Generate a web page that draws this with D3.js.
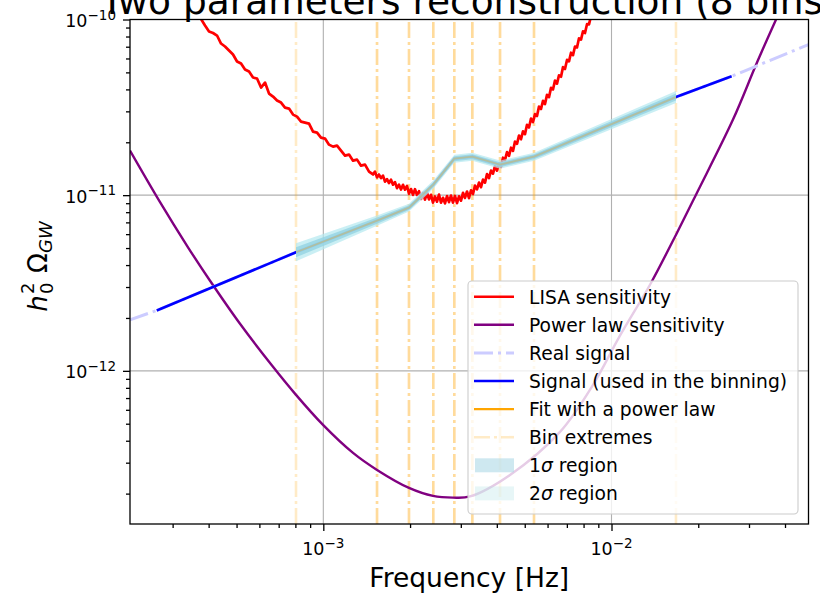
<!DOCTYPE html>
<html>
<head>
<meta charset="utf-8">
<script src="https://cdn.jsdelivr.net/npm/d3@7"></script>
<style>
  body { margin: 0; background: #fff; }
  svg { display: block; }
  text { font-family: "DejaVu Sans", sans-serif; fill: #000; }
</style>
</head>
<body>
<svg id="chart" width="820" height="593"></svg>
<script>
// ---------------- data ----------------
// Edges of the 8 frequency bins [Hz]
const binEdges = [8.04e-4, 1.536e-3, 1.983e-3, 2.408e-3, 2.848e-3, 3.289e-3, 4.104e-3, 5.384e-3, 1.674e-2];
// Power-law fit evaluated at the bin edges, with 1 and 2 sigma envelopes
const fitValues   = [4.73e-12, 7.16e-12, 8.49e-12, 1.148e-11, 1.614e-11, 1.657e-11, 1.492e-11, 1.657e-11, 3.618e-11];
const sigma1Upper = [5.05e-12, 7.45e-12, 8.77e-12, 1.186e-11, 1.668e-11, 1.712e-11, 1.542e-11, 1.712e-11, 3.788e-11];
const sigma1Lower = [4.43e-12, 6.88e-12, 8.22e-12, 1.111e-11, 1.562e-11, 1.603e-11, 1.444e-11, 1.603e-11, 3.456e-11];
const sigma2Upper = [5.32e-12, 7.65e-12, 8.95e-12, 1.210e-11, 1.701e-11, 1.746e-11, 1.573e-11, 1.746e-11, 3.915e-11];
const sigma2Lower = [4.20e-12, 6.70e-12, 8.06e-12, 1.089e-11, 1.531e-11, 1.572e-11, 1.416e-11, 1.572e-11, 3.344e-11];

// Injected signal h0^2 Omega_GW(f)
const signalFreq   = [2.134e-4, 2.642e-4, 8.04e-4, 1.536e-3, 1.983e-3, 2.408e-3, 2.848e-3, 3.289e-3, 4.104e-3, 5.384e-3, 1.674e-2, 2.612e-2, 4.826e-2];
const signalValues = [1.953e-12, 2.207e-12, 4.73e-12, 7.16e-12, 8.49e-12, 1.148e-11, 1.614e-11, 1.657e-11, 1.492e-11, 1.657e-11, 3.618e-11, 4.753e-11, 7.20e-11];
// Frequency window used for the binning
const binningRange = [2.642e-4, 2.612e-2];

// Power-law integrated sensitivity
const plsFreq = [2.134e-4, 2.713e-4, 3.392e-4, 4.045e-4, 5.140e-4, 6.637e-4, 8.04e-4, 9.977e-4, 1.268e-3, 1.536e-3,
                 1.983e-3, 2.402e-3, 2.818e-3, 3.228e-3, 4.444e-3, 6.626e-3, 8.626e-3, 1.070e-2, 1.360e-2, 1.688e-2,
                 1.980e-2, 2.640e-2, 3.198e-2, 3.752e-2, 4.064e-2];
const plsValues = [1.793e-11, 9.122e-12, 5.048e-12, 3.257e-12, 1.853e-12, 1.072e-12, 7.298e-13, 4.924e-13, 3.410e-13, 2.728e-13,
                   2.154e-13, 1.940e-13, 1.897e-13, 1.927e-13, 2.555e-13, 4.491e-13, 8.321e-13, 1.585e-12, 3.090e-12, 6.114e-12,
                   1.033e-11, 2.693e-11, 5.689e-11, 1.027e-10, 1.370e-10];

// LISA noise realisation, stored as log10 f [Hz] and log10 h0^2 Omega
const lisaLogF = [-3.4382,-3.4243,-3.4105,-3.3966,-3.3827,-3.3688,-3.3549,-3.3411,-3.3272,-3.3133,
                  -3.2994,-3.2855,-3.2717,-3.2578,-3.2439,-3.2300,-3.2161,-3.2023,-3.1884,-3.1745,
                  -3.1606,-3.1467,-3.1329,-3.1190,-3.1051,-3.0912,-3.0773,-3.0635,-3.0496,-3.0357,
                  -3.0218,-3.0080,-2.9941,-2.9802,-2.9663,-2.9524,-2.9386,-2.9247,-2.9108,-2.8969,
                  -2.8830,-2.8692,-2.8553,-2.8414,
                  -2.8276,-2.8207,-2.8137,-2.8068,-2.7998,-2.7929,-2.7860,-2.7790,-2.7721,-2.7651,
                  -2.7582,-2.7513,-2.7443,-2.7374,-2.7304,-2.7235,-2.7166,-2.7096,-2.7027,-2.6957,
                  -2.6888,-2.6819,-2.6749,-2.6680,-2.6610,-2.6541,-2.6472,-2.6402,-2.6333,-2.6263,
                  -2.6194,-2.6125,-2.6055,-2.5986,-2.5916,-2.5847,-2.5778,-2.5708,-2.5639,-2.5569,
                  -2.5500,-2.5431,-2.5361,-2.5292,-2.5222,-2.5153,-2.5084,-2.5014,-2.4945,-2.4875,
                  -2.4806,-2.4737,-2.4667,-2.4598,-2.4528,-2.4459,-2.4390,-2.4320,-2.4251,-2.4181,
                  -2.4112,-2.4043,-2.3973,-2.3904,-2.3834,-2.3765,-2.3696,-2.3626,-2.3557,-2.3487,
                  -2.3418,-2.3349,-2.3279,-2.3210,-2.3140,-2.3071,-2.3002,-2.2932,-2.2863,-2.2793,
                  -2.2724,-2.2655,-2.2585,-2.2516,-2.2446,-2.2377,-2.2308,-2.2238,-2.2169,-2.2099,
                  -2.2030,-2.1961,-2.1891,-2.1822,-2.1752,-2.1683,-2.1614,-2.1544,-2.1475,-2.1405,
                  -2.1336,-2.1267,-2.1197,-2.1128,-2.1058,-2.0989,-2.0920,-2.0850,-2.0781,-2.0711,
                  -2.0642,-2.0573,-2.0503];
const lisaLogH = [-9.9373,-9.9972,-10.0342,-10.0684,-10.0769,-10.0912,-10.1368,-10.1538,-10.1766,-10.1994,
                  -10.2393,-10.2507,-10.2849,-10.2963,-10.3305,-10.3362,-10.3875,-10.3590,-10.4217,-10.4387,
                  -10.4615,-10.4729,-10.5014,-10.5071,-10.5413,-10.5527,-10.5812,-10.5869,-10.5926,-10.6382,
                  -10.6439,-10.6724,-10.6781,-10.7123,-10.7236,-10.7179,-10.7464,-10.7749,-10.7692,-10.8034,
                  -10.7977,-10.8319,-10.8262,-10.8661,
                  -10.8821,-10.8661,-10.8986,-10.8826,-10.9031,-10.8889,-10.9231,-10.9088,-10.9316,-10.9117,
                  -10.9402,-10.9259,-10.9601,-10.9402,-10.9681,-10.9413,-10.9687,-10.9476,-10.9920,-10.9652,
                  -10.9983,-10.9658,-10.9989,-10.9778,-11.0217,-10.9880,-11.0256,-10.9863,-11.0239,-10.9980,
                  -11.0425,-11.0071,-11.0373,-10.9963,-11.0430,-11.0151,-11.0470,-11.0048,-11.0396,-11.0020,
                  -11.0430,-11.0043,-11.0453,-11.0066,-11.0316,-10.9866,-11.0157,-10.9792,-11.0168,-10.9721,
                  -10.9932,-10.9459,-10.9670,-10.9282,-10.9544,-10.9117,-10.9288,-10.8803,-10.9031,-10.8604,
                  -10.8775,-10.8348,-10.8604,-10.8205,-10.8387,-10.7869,-10.8006,-10.7544,-10.7766,-10.7299,
                  -10.7481,-10.6952,-10.7077,-10.6604,-10.6815,-10.6370,-10.6524,-10.5994,-10.6148,-10.5641,
                  -10.5840,-10.5385,-10.5499,-10.4957,-10.5094,-10.4627,-10.4815,-10.4291,-10.4422,-10.3892,
                  -10.3983,-10.3476,-10.3652,-10.3174,-10.3259,-10.2712,-10.2821,-10.2302,-10.2382,-10.1892,
                  -10.2029,-10.1538,-10.1590,-10.1071,-10.1145,-10.0672,-10.0769,-10.0268,-10.0279,-9.9806,
                  -9.9852,-9.9413,-9.9316];

// Axis ticks
const xMajorTicks = [1e-3, 1e-2];
const xMajorLabels = [["10", "\u22123"], ["10", "\u22122"]];
const yMajorTicks = [1e-12, 1e-11, 1e-10];
const yMajorLabels = [["10", "\u221212"], ["10", "\u221211"], ["10", "\u221210"]];
const xMinorTicks = [3e-4, 4e-4, 5e-4, 6e-4, 7e-4, 8e-4, 9e-4, 2e-3, 3e-3, 4e-3, 5e-3, 6e-3, 7e-3, 8e-3, 9e-3, 2e-2, 3e-2, 4e-2];
const yMinorTicks = [2e-13, 3e-13, 4e-13, 5e-13, 6e-13, 7e-13, 8e-13, 9e-13,
                     2e-12, 3e-12, 4e-12, 5e-12, 6e-12, 7e-12, 8e-12, 9e-12,
                     2e-11, 3e-11, 4e-11, 5e-11, 6e-11, 7e-11, 8e-11, 9e-11];

const legendLabels = ["LISA sensitivity", "Power law sensitivity", "Real signal", "Signal (used in the binning)",
                      "Fit with a power law", "Bin extremes", "1\u03c3 region", "2\u03c3 region"];

// ---------------- layout ----------------
const plot = { left: 130, right: 808.5, top: 19.5, bottom: 524 };
const xDomain = [2.134e-4, 4.826e-2];
const yDomain = [1.343e-13, 1e-10];

const svg = d3.select("#chart");
const x = d3.scaleLog().domain(xDomain).range([plot.left, plot.right]);
const y = d3.scaleLog().domain(yDomain).range([plot.bottom, plot.top]);

svg.append("defs").append("clipPath").attr("id", "plotClip")
  .append("rect")
  .attr("x", plot.left).attr("y", plot.top)
  .attr("width", plot.right - plot.left).attr("height", plot.bottom - plot.top);

// grid
const grid = svg.append("g").attr("stroke", "#b0b0b0").attr("stroke-width", 1.1);
xMajorTicks.forEach(v => grid.append("line")
  .attr("x1", x(v)).attr("x2", x(v)).attr("y1", plot.top).attr("y2", plot.bottom));
yMajorTicks.filter(v => v < yDomain[1]).forEach(v => grid.append("line")
  .attr("x1", plot.left).attr("x2", plot.right).attr("y1", y(v)).attr("y2", y(v)));

const area = svg.append("g").attr("clip-path", "url(#plotClip)");

// bin extremes: each bin draws its two edges, so shared edges look stronger
const binG = area.append("g");
for (let i = 0; i < binEdges.length - 1; i++) {
  [binEdges[i], binEdges[i + 1]].forEach(e => binG.append("line")
    .attr("x1", x(e)).attr("x2", x(e))
    .attr("y1", plot.bottom).attr("y2", plot.top)
    .attr("stroke", "#ffa500").attr("stroke-opacity", 0.22)
    .attr("stroke-width", 2.6)
    .attr("stroke-dasharray", "16,4,3,4"));
}

const line = d3.line().x(d => x(d[0])).y(d => y(d[1]));

// LISA sensitivity
const lisaPts = lisaLogF.map((lf, i) => [Math.pow(10, lf), Math.pow(10, lisaLogH[i])]);
area.append("path").datum(lisaPts)
  .attr("d", line).attr("fill", "none")
  .attr("stroke", "#ff0000").attr("stroke-width", 2.7).attr("stroke-linejoin", "round");

// Power law sensitivity
const plsPts = plsFreq.map((f, i) => [f, plsValues[i]]);
area.append("path").datum(plsPts)
  .attr("d", line.curve(d3.curveCatmullRom.alpha(0.5))).attr("fill", "none")
  .attr("stroke", "#800080").attr("stroke-width", 2.4);
line.curve(d3.curveLinear);

// Real signal
const sigPts = signalFreq.map((f, i) => [f, signalValues[i]]);
area.append("path").datum(sigPts)
  .attr("d", line).attr("fill", "none")
  .attr("stroke", "#ccccff").attr("stroke-width", 3)
  .attr("stroke-dasharray", "19,5,3,5");

// Signal used in the binning
const usedPts = sigPts.filter(d => d[0] >= binningRange[0] && d[0] <= binningRange[1]);
area.append("path").datum(usedPts)
  .attr("d", line).attr("fill", "none")
  .attr("stroke", "#0000ff").attr("stroke-width", 2.6);

// sigma regions
const band = d3.area().x(d => x(d.f)).y0(d => y(d.lo)).y1(d => y(d.hi));
const s2 = binEdges.map((f, i) => ({ f, lo: sigma2Lower[i], hi: sigma2Upper[i] }));
const s1 = binEdges.map((f, i) => ({ f, lo: sigma1Lower[i], hi: sigma1Upper[i] }));
area.append("path").datum(s2).attr("d", band)
  .attr("fill", "#b4e8f0").attr("fill-opacity", 0.7);
area.append("path").datum(s1).attr("d", band)
  .attr("fill", "#94d3e2").attr("fill-opacity", 0.8);

// Fit with a power law
const fitPts = binEdges.map((f, i) => [f, fitValues[i]]);
area.append("path").datum(fitPts)
  .attr("d", line).attr("fill", "none")
  .attr("stroke", "#ffa500").attr("stroke-opacity", 0.3).attr("stroke-width", 1.8);

// ---------------- axes ----------------
function styleAxis(g) {
  g.select(".domain").remove();
  g.selectAll(".tick line").attr("stroke", "#000").attr("stroke-width", 1.3);
  g.selectAll(".tick text").remove();
}
svg.append("g").attr("transform", `translate(0,${plot.bottom})`)
  .call(d3.axisBottom(x).tickValues(xMinorTicks).tickSize(4).tickFormat(() => "")).call(styleAxis);
svg.append("g").attr("transform", `translate(0,${plot.bottom})`)
  .call(d3.axisBottom(x).tickValues(xMajorTicks).tickSize(7).tickFormat(() => "")).call(styleAxis);
svg.append("g").attr("transform", `translate(${plot.left},0)`)
  .call(d3.axisLeft(y).tickValues(yMinorTicks).tickSize(4).tickFormat(() => "")).call(styleAxis);
svg.append("g").attr("transform", `translate(${plot.left},0)`)
  .call(d3.axisLeft(y).tickValues(yMajorTicks).tickSize(7).tickFormat(() => "")).call(styleAxis);

// tick labels written as 10^n
function powerLabel(g, parts, px, py, anchor) {
  const t = g.append("text").attr("x", px).attr("y", py).attr("text-anchor", anchor)
    .attr("font-size", 17.5);
  t.append("tspan").text(parts[0]);
  t.append("tspan").attr("font-size", 13.5).attr("dy", -7.5).text(parts[1]);
}
const labels = svg.append("g");
xMajorTicks.forEach((v, i) => powerLabel(labels, xMajorLabels[i], x(v), 555, "middle"));
yMajorTicks.forEach((v, i) => powerLabel(labels, yMajorLabels[i], 116, y(v) + 7.5, "end"));

// spines
svg.append("rect")
  .attr("x", plot.left).attr("y", plot.top)
  .attr("width", plot.right - plot.left).attr("height", plot.bottom - plot.top)
  .attr("fill", "none").attr("stroke", "#000").attr("stroke-width", 1.3);

// title and axis labels
svg.append("text").attr("x", (plot.left + plot.right) / 2).attr("y", 14)
  .attr("text-anchor", "middle").attr("font-size", 37.5)
  .text("Two parameters reconstruction (8 bins)");

svg.append("text").attr("x", (plot.left + plot.right) / 2).attr("y", 587)
  .attr("text-anchor", "middle").attr("font-size", 26.5)
  .text("Frequency [Hz]");

const yl = svg.append("g").attr("transform", "translate(47,267) rotate(-90)");
yl.append("text").attr("x", -44.7).attr("y", 0).attr("font-size", 26)
  .attr("font-style", "italic").text("h");
yl.append("text").attr("x", -27).attr("y", -13).attr("font-size", 18).text("2");
yl.append("text").attr("x", -27).attr("y", 6).attr("font-size", 18).text("0");
yl.append("text").attr("x", -6).attr("y", 0).attr("font-size", 26).text("\u03a9");
yl.append("text").attr("x", 14).attr("y", 5).attr("font-size", 18)
  .attr("font-style", "italic").text("GW");

// ---------------- legend ----------------
const lg = svg.append("g");
lg.append("rect").attr("x", 468).attr("y", 281).attr("width", 330).attr("height", 233)
  .attr("rx", 4).attr("fill", "#fff").attr("fill-opacity", 0.8)
  .attr("stroke", "#cccccc").attr("stroke-width", 1.1);

const rowY = k => 296.7 + 28.1 * k;
const handles = [
  { type: "line", color: "#ff0000", width: 2.6 },
  { type: "line", color: "#800080", width: 2.4 },
  { type: "line", color: "#ccccff", width: 3, dash: "19,5,3,5" },
  { type: "line", color: "#0000ff", width: 2.6 },
  { type: "line", color: "#ffa500", width: 2.4 },
  { type: "line", color: "#ffa500", width: 2.6, dash: "16,4,3,4", opacity: 0.22 },
  { type: "patch", color: "#add8e6", opacity: 0.6 },
  { type: "patch", color: "#b0e0e6", opacity: 0.3 }
];
handles.forEach((h, k) => {
  const cy = rowY(k);
  if (h.type === "line") {
    lg.append("line").attr("x1", 474).attr("x2", 514).attr("y1", cy).attr("y2", cy)
      .attr("stroke", h.color).attr("stroke-width", h.width)
      .attr("stroke-opacity", h.opacity || 1)
      .attr("stroke-dasharray", h.dash || null);
  } else {
    lg.append("rect").attr("x", 475).attr("y", cy - 7).attr("width", 39).attr("height", 14)
      .attr("fill", h.color).attr("fill-opacity", h.opacity);
  }
  const t = lg.append("text").attr("x", 529).attr("y", cy + 6.8).attr("font-size", 18.7);
  const lab = legendLabels[k];
  const sIdx = lab.indexOf("\u03c3");
  if (sIdx >= 0) {
    t.append("tspan").text(lab.slice(0, sIdx));
    t.append("tspan").attr("font-style", "italic").text("\u03c3");
    t.append("tspan").text(lab.slice(sIdx + 1));
  } else {
    t.text(lab);
  }
});
</script>
</body>
</html>
